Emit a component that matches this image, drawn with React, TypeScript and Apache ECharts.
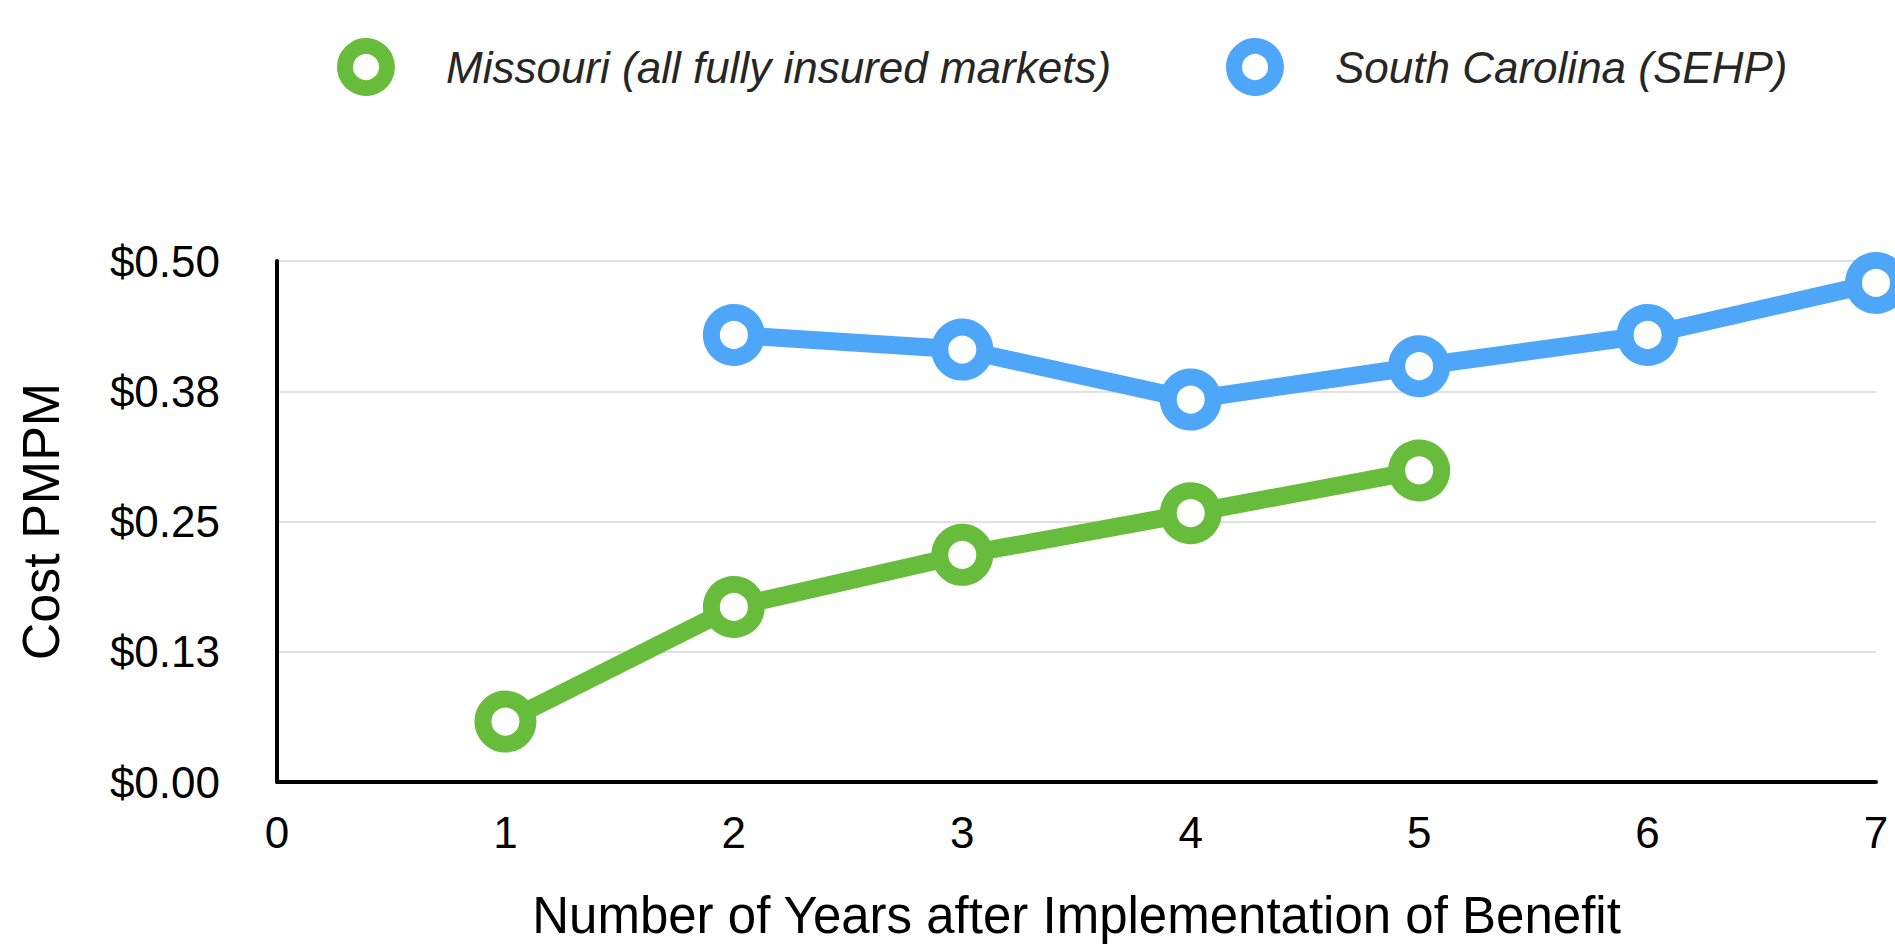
import React, { useEffect, useRef } from 'react';
import * as echarts from 'echarts';

// ---- data ----
const xTickLabels = ['0', '1', '2', '3', '4', '5', '6', '7'];
const yTickLabels = ['$0.00', '$0.13', '$0.25', '$0.38', '$0.50'];
const missouriYears = [1, 2, 3, 4, 5];
const missouriCost = [0.058, 0.168, 0.218, 0.258, 0.299];
const scYears = [2, 3, 4, 5, 6, 7];
const scCost = [0.429, 0.415, 0.367, 0.399, 0.429, 0.479];
const seriesNames = ['Missouri (all fully insured markets)', 'South Carolina (SEHP)'];
const seriesColors = ['#67bd3b', '#4da6f8'];
const xTitle = 'Number of Years after Implementation of Benefit';
const yTitle = 'Cost PMPM';

const FONT = '"Liberation Sans", Arial, Helvetica, sans-serif';

function lineSeries(name: string, xs: number[], ys: number[], color: string) {
  return {
    name,
    type: 'line',
    data: xs.map((x, i) => [x, ys[i]]),
    symbol: 'circle',
    symbolSize: 45,
    showSymbol: true,
    clip: false,
    lineStyle: { color, width: 18 },
    itemStyle: { color: '#ffffff', borderColor: color, borderWidth: 17 },
    emphasis: { disabled: true },
  };
}

function legendFor(i: number, left: number) {
  return {
    data: [
      {
        name: seriesNames[i],
        icon: 'circle',
        itemStyle: { color: '#ffffff', borderColor: seriesColors[i], borderWidth: 16 },
      },
    ],
    left,
    top: 38,
    padding: 0,
    itemWidth: 150,
    itemHeight: 42,
    selectedMode: false,
    textStyle: { fontFamily: FONT, fontStyle: 'italic', fontSize: 44, color: '#262626' },
  };
}

export default function App() {
  const ref = useRef<HTMLDivElement>(null);
  useEffect(() => {
    document.body.style.margin = '0';
    const chart = echarts.init(ref.current!, undefined, { renderer: 'svg' });
    chart.setOption({
      animation: false,
      backgroundColor: '#ffffff',
      legend: [legendFor(0, 337), legendFor(1, 1226)],
      grid: { left: 277, right: 19, top: 261, bottom: 946 - 782 },
      xAxis: {
        type: 'value',
        min: 0,
        max: 7,
        interval: 1,
        name: xTitle,
        nameLocation: 'middle',
        nameGap: 108,
        nameTextStyle: { fontFamily: FONT, fontSize: 51, color: '#000' },
        axisLine: { show: true, onZero: false, lineStyle: { color: '#000', width: 4 } },
        axisTick: { show: false },
        splitLine: { show: false },
        axisLabel: {
          margin: 28,
          fontFamily: FONT,
          fontSize: 44,
          color: '#000',
          showMinLabel: true,
          showMaxLabel: true,
          formatter: (v: number) => xTickLabels[Math.round(v)] ?? '',
        },
      },
      yAxis: {
        type: 'value',
        min: 0,
        max: 0.5,
        interval: 0.125,
        name: yTitle,
        nameLocation: 'middle',
        nameGap: 210,
        nameTextStyle: { fontFamily: FONT, fontSize: 52, color: '#000' },
        axisLine: { show: true, lineStyle: { color: '#000', width: 4 } },
        axisTick: { show: false },
        splitLine: { show: true, lineStyle: { color: '#d6d6d6', width: 1.5 } },
        axisLabel: {
          margin: 57,
          fontFamily: FONT,
          fontSize: 44,
          color: '#000',
          formatter: (v: number) => yTickLabels[Math.round(v / 0.125)] ?? '',
        },
      },
      series: [
        lineSeries(seriesNames[0], missouriYears, missouriCost, seriesColors[0]),
        lineSeries(seriesNames[1], scYears, scCost, seriesColors[1]),
      ],
    });
    return () => chart.dispose();
  }, []);
  return (
    <div
      ref={ref}
      style={{ position: 'fixed', left: 0, top: 0, width: 1895, height: 946, background: '#fff' }}
    />
  );
}
